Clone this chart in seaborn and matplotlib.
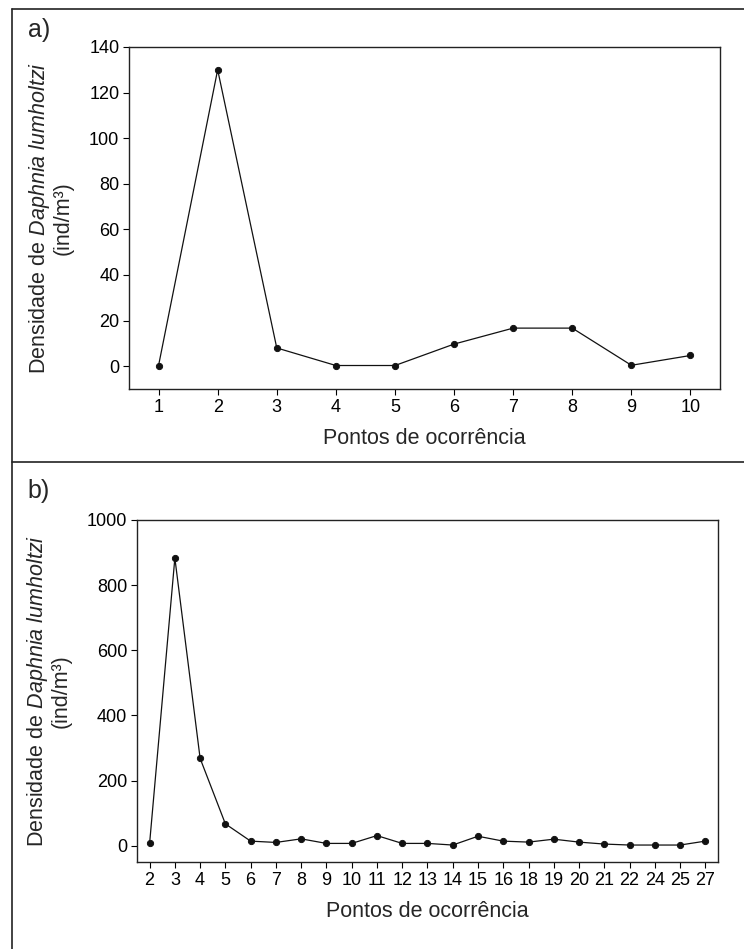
import matplotlib
matplotlib.use('Agg')
import matplotlib.pyplot as plt
from matplotlib.lines import Line2D
import seaborn as sns
import pandas as pd

# Panel a) - density per occurrence point
pontos_a = ['1', '2', '3', '4', '5', '6', '7', '8', '9', '10']
dens_a = [0.3, 130, 8, 0.3, 0.3, 9.7, 16.7, 16.7, 0.4, 4.7]

# Panel b) - density per occurrence point
pontos_b = ['2', '3', '4', '5', '6', '7', '8', '9', '10', '11', '12', '13',
            '14', '15', '16', '18', '19', '20', '21', '22', '24', '25', '27']
dens_b = [7, 883, 268, 67, 14, 10, 21, 7, 7, 31, 7, 7,
          2, 29, 14, 11, 20, 11, 5, 2, 2, 2, 14]

yticks_a = [0, 20, 40, 60, 80, 100, 120, 140]
yticks_b = [0, 200, 400, 600, 800, 1000]

sns.set_style('ticks')
plt.rcParams['font.family'] = ['Liberation Sans', 'DejaVu Sans']
plt.rcParams['mathtext.fontset'] = 'custom'
plt.rcParams['mathtext.rm'] = 'Liberation Sans'
plt.rcParams['mathtext.it'] = 'Liberation Sans:italic'

ylabel = 'Densidade de $\\it{Daphnia\\ lumholtzi}$\n(ind/m³)'

fig = plt.figure(figsize=(7.44, 9.49), dpi=100)
ax_a = fig.add_axes([0.1734, 0.5901, 0.7944, 0.3604])
ax_b = fig.add_axes([0.1841, 0.0917, 0.7809, 0.3604])

panels = [
    (ax_a, pontos_a, dens_a, yticks_a, (-10, 140), 'a)', 0.968),
    (ax_b, pontos_b, dens_b, yticks_b, (-50, 1000), 'b)', 0.483),
]

for ax, pts, dens, yt, ylim, tag, ty in panels:
    df = pd.DataFrame({'Ponto': pts, 'Densidade': dens})
    sns.pointplot(data=df, x='Ponto', y='Densidade', order=pts, color='#111111',
                  markers='o', markersize=4.5, linewidth=0.9, errorbar=None, ax=ax)
    ax.set_xlim(-0.5, len(pts) - 0.5)
    ax.set_ylim(*ylim)
    ax.set_yticks(yt)
    ax.tick_params(axis='both', direction='out', length=4, width=0.8,
                   labelsize=13, pad=3, colors='black')
    for sp in ax.spines.values():
        sp.set_visible(True)
        sp.set_linewidth(1.0)
        sp.set_color('#222222')
    ax.set_xlabel('Pontos de ocorrência', fontsize=15.5, labelpad=9)
    ax.set_ylabel(ylabel, fontsize=15.5, labelpad=11, linespacing=1.05)
    fig.text(0.037, ty, tag, fontsize=18, va='center', ha='left')

# outer frame and divider
fig.add_artist(Line2D([0.0168, 0.0168], [0.9905, 0.0], color='#222222', lw=1.2))
fig.add_artist(Line2D([0.0168, 1.0], [0.9905, 0.9905], color='#222222', lw=1.2))
fig.add_artist(Line2D([0.0168, 1.0], [0.5127, 0.5127], color='#222222', lw=1.2))

plt.savefig('out.png', dpi=100)
plt.close()
